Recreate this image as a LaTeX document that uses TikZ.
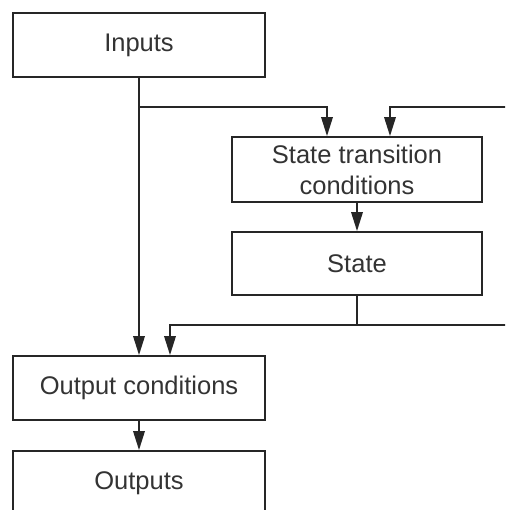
\documentclass[tikz,border=0pt]{standalone}
\usepackage{fontspec}
\setmainfont{Liberation Sans}
\usetikzlibrary{arrows.meta,calc}
\definecolor{ln}{HTML}{262626}
\definecolor{tx}{HTML}{333333}
\begin{document}
\begin{tikzpicture}[x=1pt,y=-1pt,
  box/.style={draw=ln, line width=1.8pt, rectangle, inner sep=0pt, align=center,
    text=tx, font=\fontsize{25.5}{31}\selectfont},
  conn/.style={draw=ln, line width=1.8pt},
  arr/.style={conn, -{Triangle[length=19pt,width=11.5pt]}}]
\useasboundingbox (0,0) rectangle (505,510);
\clip (0,0) rectangle (505,510);
\node[box, minimum width=252pt, minimum height=64pt] (inputs) at (139,45) {Inputs};
\node[box, minimum width=250pt, minimum height=65pt] (st) at (357,169.5) {State transition\\conditions};
\node[box, minimum width=250pt, minimum height=63pt] (state) at (357,263.5) {State};
\node[box, minimum width=252pt, minimum height=64pt] (outc) at (139,388) {Output conditions};
\node[box, minimum width=252pt, minimum height=64pt] (outs) at (139,483) {Outputs};
\coordinate (j1) at (139,107);
\coordinate (r1) at (508,107);
\coordinate (r2) at (508,325);
\coordinate (j2) at (357,325);
\draw[arr] (inputs.south) -- (outc.north);
\draw[arr] (j1) -| ([xshift=-30pt]st.north);
\draw[arr] (r1) -| ([xshift=33pt]st.north);
\draw[arr] (st.south) -- (state.north);
\draw[conn] (state.south) -- (j2);
\draw[arr] (r2) -| ([xshift=31pt]outc.north);
\draw[arr] (outc.south) -- (outs.north);
\end{tikzpicture}
\end{document}
